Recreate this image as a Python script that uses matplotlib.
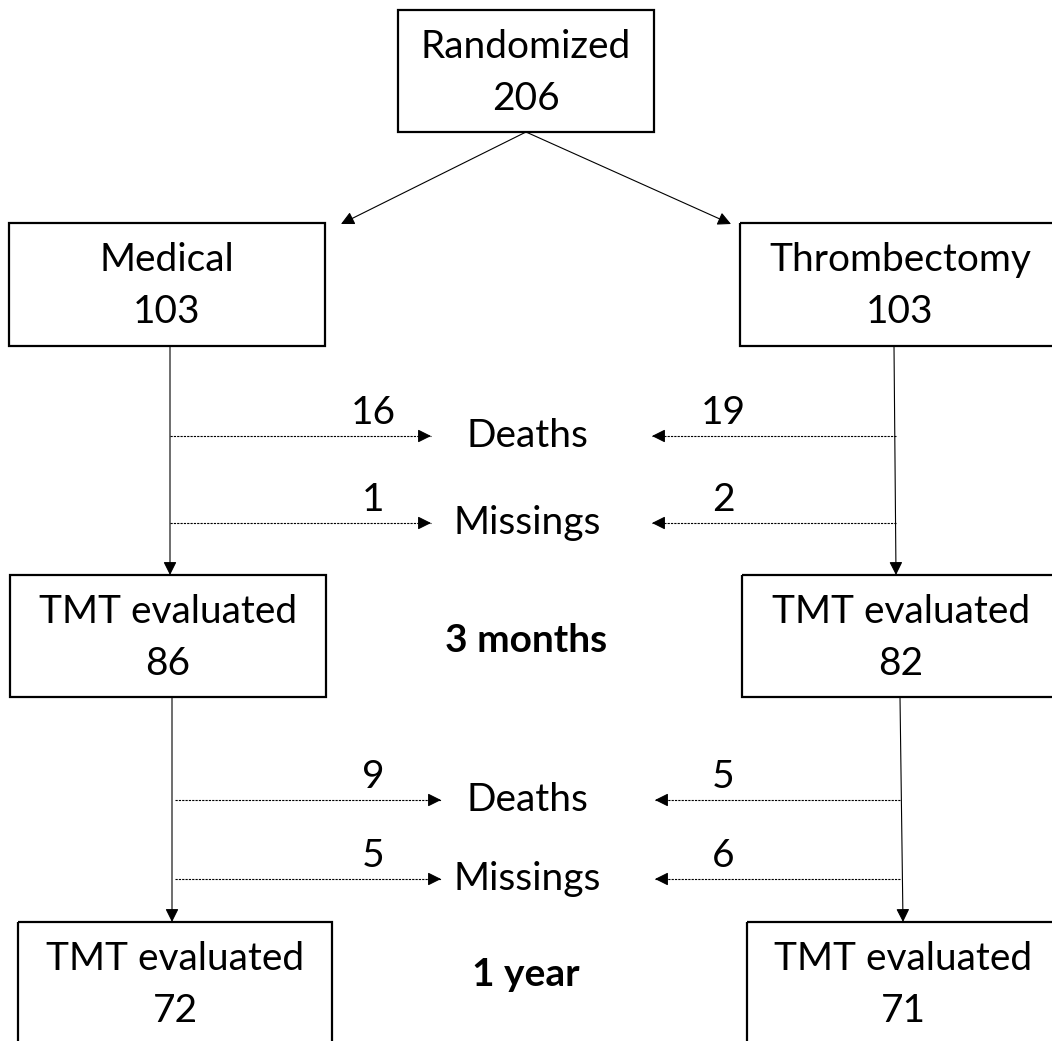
import matplotlib
matplotlib.use("Agg")
import matplotlib.pyplot as plt
import matplotlib.patches as patches

plt.rcParams['font.family'] = ['Lato', 'DejaVu Sans']

# Flow counts
randomized = 206
arms = ["Medical", "Thrombectomy"]
arm_n = [103, 103]
stages = ["3 months", "1 year"]
deaths = [[16, 19], [9, 5]]      # [stage][arm]
missings = [[1, 2], [5, 6]]
evaluated = [[86, 82], [72, 71]]

W, H = 1052, 1041
fig = plt.figure(figsize=(W / 100, H / 100), dpi=100)
ax = fig.add_axes([0, 0, 1, 1])
ax.set_xlim(0, W)
ax.set_ylim(H, 0)
ax.axis('off')

FS = 28


def box(x0, y0, x1, y1, lines):
    ax.add_patch(patches.Rectangle((x0, y0), x1 - x0, y1 - y0, fill=False,
                                   edgecolor='black', linewidth=1.6))
    cx = (x0 + x1) / 2
    # text offsets fixed from the top edge (bottom boxes run off the page)
    ax.text(cx, y0 + 37, lines[0], ha='center', va='center', fontsize=FS)
    ax.text(cx, y0 + 89, lines[1], ha='center', va='center', fontsize=FS)


def arrow(start, tip, dashed=False):
    if dashed:
        ax.plot([start[0], tip[0]], [start[1], tip[1]], color='black', lw=0.8,
                linestyle=(0, (2, 1)))
        dx = tip[0] - start[0]
        back = (tip[0] - 12 * (1 if dx > 0 else -1), tip[1])
        ax.annotate('', xy=tip, xytext=back,
                    arrowprops=dict(arrowstyle='-|>', color='black', lw=0.8,
                                    mutation_scale=20, shrinkA=0, shrinkB=0))
    else:
        ax.annotate('', xy=tip, xytext=start,
                    arrowprops=dict(arrowstyle='-|>', color='black', lw=0.8,
                                    mutation_scale=20, shrinkA=0, shrinkB=0))


# top box
box(398, 10, 654, 132, ["Randomized", str(randomized)])
arrow((526, 132), (341, 224))
arrow((526, 132), (731, 224))

# arm boxes
box(9, 223, 325, 346, [arms[0], str(arm_n[0])])
box(740, 223, 1060, 346, [arms[1], str(arm_n[1])])

# stage geometry
stage_top = [346, 697]
stage_box = [(575, 697), (922, 1100)]
left_box_x = [(10, 326), (18, 332)]
right_box_x = [(742, 1060), (747, 1060)]
left_vx = [170, 172]
right_vx = [(894, 896), (900, 903)]
death_y = [436, 800]
miss_y = [523, 879]
left_start = [170, 175]
right_start = [896, 900]
left_tip = [431, 441]
right_tip = [652, 655]
stage_label_y = [641, 975]

for s in range(2):
    y_top = stage_top[s]
    y_bot = stage_box[s][0]
    # vertical flow arrows
    arrow((left_vx[s], y_top), (left_vx[s], y_bot))
    arrow((right_vx[s][0], y_top), (right_vx[s][1], y_bot))

    for y, lab, counts in [(death_y[s], "Deaths", deaths[s]),
                           (miss_y[s], "Missings", missings[s])]:
        arrow((left_start[s], y), (left_tip[s], y), dashed=True)
        arrow((right_start[s], y), (right_tip[s], y), dashed=True)
        ax.text(373, y - 23, str(counts[0]), ha='center', va='center', fontsize=FS)
        ax.text(723, y - 23, str(counts[1]), ha='center', va='center', fontsize=FS)
        ax.text(527, y, lab, ha='center', va='center', fontsize=FS)

    yb0, yb1 = stage_box[s]
    box(left_box_x[s][0], yb0, left_box_x[s][1], yb1,
        ["TMT evaluated", str(evaluated[s][0])])
    box(right_box_x[s][0], yb0, right_box_x[s][1], yb1,
        ["TMT evaluated", str(evaluated[s][1])])
    ax.text(526, stage_label_y[s], stages[s], ha='center', va='center',
            fontsize=FS, fontweight='bold')

fig.savefig("out.png", dpi=100)
